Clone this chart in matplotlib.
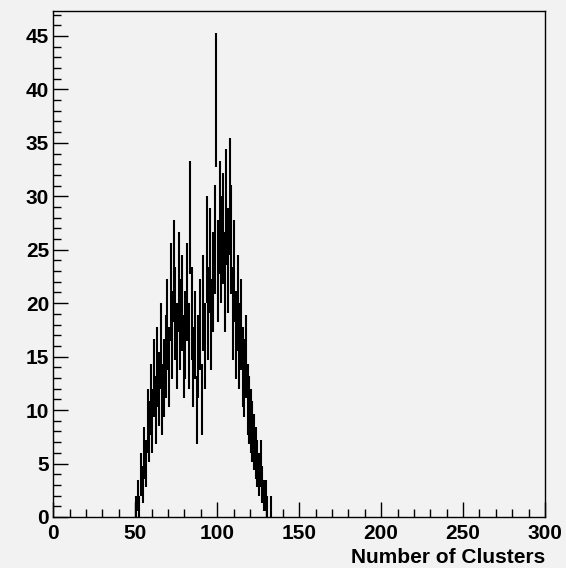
import numpy as np
import matplotlib
matplotlib.use("Agg")
import matplotlib.pyplot as plt
from matplotlib.ticker import MultipleLocator

# Bin lower edges (width 1) and counts per bin
bin_low = list(range(50, 134))
counts = [1, 2, 1, 4, 3, 6, 5, 9, 8, 11,
          9, 13, 10, 14, 12, 16, 11, 13, 15, 18,
          14, 21, 17, 23, 19, 16, 22, 18, 20, 15,
          17, 21, 16, 28, 19, 14, 17, 10, 15, 18,
          11, 20, 16, 25, 19, 24, 18, 22, 26, 39,
          23, 28, 25, 27, 22, 29, 24, 30, 26, 19,
          23, 17, 20, 16, 18, 14, 13, 15, 11, 10,
          9, 8, 7, 6, 5, 4, 5, 3, 2, 2,
          1, 0, 1, 0]
x_ticks = [0, 50, 100, 150, 200, 250, 300]
y_ticks = [0, 5, 10, 15, 20, 25, 30, 35, 40, 45]
x_title = "Number of Clusters"

bg = "#f2f2f2"
plt.rcParams["font.family"] = ["Liberation Sans", "DejaVu Sans"]
plt.rcParams["font.weight"] = "bold"

fig = plt.figure(figsize=(5.66, 5.68), dpi=100, facecolor=bg)
ax = fig.add_axes([0.0942, 0.0898, 0.8688, 0.8914], facecolor=bg)

lo = np.array(bin_low, dtype=float)
n = np.array(counts, dtype=float)
keep = n > 0
xc = lo[keep] + 0.5
yv = n[keep]
err = np.sqrt(yv)
ax.errorbar(xc, yv, yerr=err, xerr=0.5, fmt="none", ecolor="black",
            elinewidth=1.5, capsize=0)

ax.set_xlim(0, 300)
ax.set_ylim(0, 47.36)
ax.set_xticks(x_ticks)
ax.set_yticks(y_ticks)
ax.xaxis.set_minor_locator(MultipleLocator(10))
ax.yaxis.set_minor_locator(MultipleLocator(1))
ax.tick_params(which="major", direction="in", length=11, width=1, labelsize=15,
               top=False, right=False)
ax.tick_params(axis="x", which="major", pad=5)
ax.tick_params(axis="y", which="major", pad=3)
ax.tick_params(which="minor", direction="in", length=6, width=1,
               top=False, right=False)
for lab in ax.get_xticklabels() + ax.get_yticklabels():
    lab.set_fontweight("bold")
for sp in ax.spines.values():
    sp.set_linewidth(1.0)

ax.set_xlabel(x_title, fontsize=15, fontweight="bold", loc="right", labelpad=4)

fig.savefig("out.png", dpi=100, facecolor=bg)
